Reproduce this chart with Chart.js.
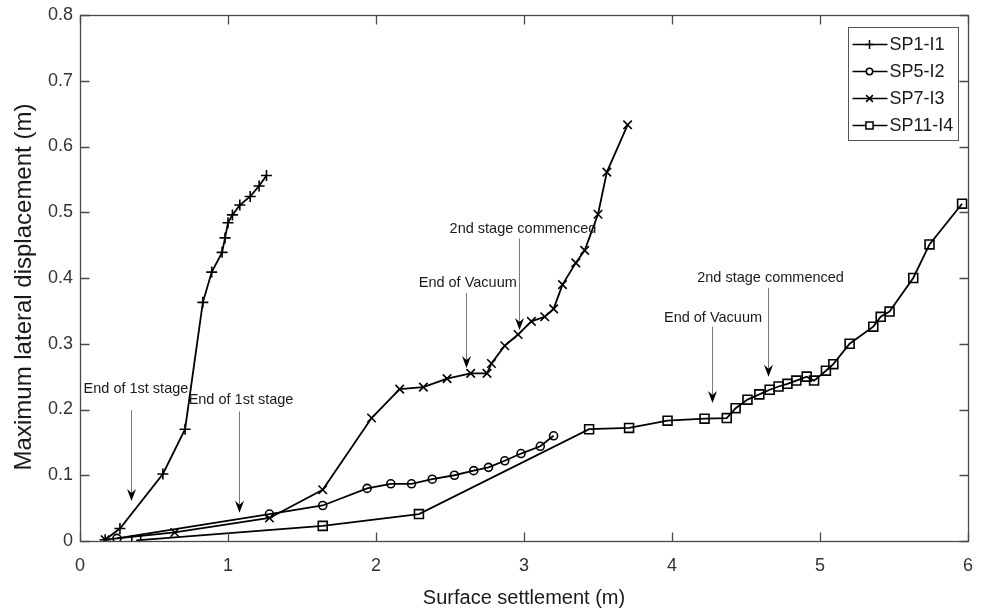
<!DOCTYPE html>
<html>
<head>
<meta charset="utf-8">
<title>Surface settlement vs lateral displacement</title>
<script src="https://cdn.jsdelivr.net/npm/chart.js@4.4.0/dist/chart.umd.min.js"></script>
<style>
  html, body { margin: 0; padding: 0; background: #fff; }
  #wrap { width: 983px; height: 608px; }
</style>
</head>
<body>
<div id="wrap"><canvas id="myChart" width="983" height="608"></canvas></div>
<script>
// inclinometer readings: settlement (x) vs max lateral displacement (y)
var sp1X = [0.17, 0.27, 0.56, 0.71, 0.83, 0.89, 0.96, 0.98, 1.00, 1.03, 1.08, 1.15, 1.21, 1.26];
var sp1Y = [0.002, 0.019, 0.102, 0.170, 0.363, 0.409, 0.439, 0.461, 0.484, 0.496, 0.511, 0.524, 0.540, 0.556];

var sp5X = [0.25, 1.28, 1.64, 1.94, 2.10, 2.24, 2.38, 2.53, 2.66, 2.76, 2.87, 2.98, 3.11, 3.20];
var sp5Y = [0.004, 0.041, 0.054, 0.080, 0.087, 0.087, 0.094, 0.100, 0.107, 0.112, 0.122, 0.133, 0.144, 0.160];

var sp7X = [0.17, 0.64, 1.28, 1.64, 1.97, 2.16, 2.32, 2.48, 2.64, 2.75, 2.78, 2.87, 2.96, 3.05, 3.14, 3.20, 3.26, 3.35, 3.41, 3.50, 3.56, 3.70];
var sp7Y = [0.002, 0.013, 0.035, 0.078, 0.187, 0.231, 0.234, 0.247, 0.255, 0.255, 0.270, 0.297, 0.314, 0.334, 0.341, 0.353, 0.390, 0.423, 0.442, 0.497, 0.561, 0.633];

var sp11X = [0.38, 1.64, 2.29, 3.44, 3.71, 3.97, 4.22, 4.37, 4.43, 4.51, 4.59, 4.66, 4.72, 4.78, 4.84, 4.91, 4.96, 5.04, 5.09, 5.20, 5.36, 5.41, 5.47, 5.63, 5.74, 5.96];
var sp11Y = [0.001, 0.023, 0.041, 0.170, 0.172, 0.183, 0.186, 0.187, 0.202, 0.215, 0.223, 0.230, 0.235, 0.239, 0.244, 0.250, 0.244, 0.259, 0.269, 0.300, 0.326, 0.341, 0.349, 0.400, 0.451, 0.513];

var seriesNames = ["SP1-I1", "SP5-I2", "SP7-I3", "SP11-I4"];
var xTicks = [0, 1, 2, 3, 4, 5, 6];
var yTicks = [0, 0.1, 0.2, 0.3, 0.4, 0.5, 0.6, 0.7, 0.8];
var xTickLabels = ["0", "1", "2", "3", "4", "5", "6"];
var yTickLabels = ["0", "0.1", "0.2", "0.3", "0.4", "0.5", "0.6", "0.7", "0.8"];

// stage notes with arrows (data units)
var notes = [
  { text: "End of 1st stage", tx: 0.378, ty: 0.231, ax: 0.345, top: 0.199, tip: 0.061 },
  { text: "End of 1st stage", tx: 1.088, ty: 0.215, ax: 1.074, top: 0.197, tip: 0.043 },
  { text: "End of Vacuum", tx: 2.62, ty: 0.393, ax: 2.608, top: 0.377, tip: 0.263 },
  { text: "2nd stage commenced", tx: 2.993, ty: 0.475, ax: 2.968, top: 0.46, tip: 0.321 },
  { text: "End of Vacuum", tx: 4.277, ty: 0.339, ax: 4.268, top: 0.326, tip: 0.21 },
  { text: "2nd stage commenced", tx: 4.666, ty: 0.40, ax: 4.646, top: 0.385, tip: 0.25 }
];

var FONT = "'Liberation Sans', Arial, sans-serif";
var axisColor = "#4a4a4a";

function pts(xs, ys) {
  return xs.map(function (x, i) { return { x: x, y: ys[i] }; });
}

function series(i, xs, ys, style, r) {
  return {
    label: seriesNames[i],
    data: pts(xs, ys),
    showLine: true,
    borderColor: "#000",
    borderWidth: 1.8,
    backgroundColor: "rgba(0,0,0,0)",
    pointStyle: style,
    pointRadius: r,
    pointBorderWidth: 1.6,
    pointBorderColor: "#000",
    pointBackgroundColor: "rgba(0,0,0,0)",
    pointHoverRadius: r
  };
}

// keep the plot box where the layout padding puts it
function noOverhang(s) {
  s.paddingTop = 0;
  s.paddingBottom = 0;
  s.paddingLeft = 0;
  s.paddingRight = 0;
}

// box, inward ticks, notes, legend and axis titles
var decor = {
  id: "decor",
  afterDatasetsDraw: function (chart) {
    var ctx = chart.ctx, a = chart.chartArea;
    var xs = chart.scales.x, ys = chart.scales.y;
    ctx.save();

    // notes
    ctx.font = "14.5px " + FONT;
    ctx.textAlign = "center";
    ctx.textBaseline = "middle";
    notes.forEach(function (n) {
      var px = Math.round(xs.getPixelForValue(n.ax)) + 0.5;
      var y0 = ys.getPixelForValue(n.top);
      var y1 = ys.getPixelForValue(n.tip);
      ctx.strokeStyle = "#7a7a7a";
      ctx.lineWidth = 1;
      ctx.beginPath();
      ctx.moveTo(px, y0);
      ctx.lineTo(px, y1 - 6);
      ctx.stroke();
      ctx.fillStyle = "#000";
      ctx.beginPath();
      ctx.moveTo(px, y1);
      ctx.lineTo(px - 4.5, y1 - 12);
      ctx.lineTo(px, y1 - 8);
      ctx.lineTo(px + 4.5, y1 - 12);
      ctx.closePath();
      ctx.fill();
      ctx.fillStyle = "#1a1a1a";
      ctx.fillText(n.text, xs.getPixelForValue(n.tx), ys.getPixelForValue(n.ty));
    });

    // frame
    var L = Math.round(a.left) + 0.5, R = Math.round(a.right) + 0.5;
    var T = Math.round(a.top) + 0.5, B = Math.round(a.bottom) + 0.5;
    ctx.strokeStyle = axisColor;
    ctx.lineWidth = 1.3;
    ctx.strokeRect(L, T, R - L, B - T);
    ctx.beginPath();
    xs.ticks.forEach(function (t) {
      var px = Math.round(xs.getPixelForValue(t.value)) + 0.5;
      ctx.moveTo(px, B); ctx.lineTo(px, B - 9);
      ctx.moveTo(px, T); ctx.lineTo(px, T + 9);
    });
    ys.ticks.forEach(function (t) {
      var py = Math.round(ys.getPixelForValue(t.value)) + 0.5;
      ctx.moveTo(L, py); ctx.lineTo(L + 9, py);
      ctx.moveTo(R, py); ctx.lineTo(R - 9, py);
    });
    ctx.stroke();

    // legend
    var bw = 110, bh = 113;
    var bx = Math.round(a.right - 10 - bw) + 0.5, by = Math.round(a.top + 12) + 0.5;
    ctx.fillStyle = "#fff";
    ctx.fillRect(bx, by, bw, bh);
    ctx.strokeStyle = "#555";
    ctx.lineWidth = 1;
    ctx.strokeRect(bx, by, bw, bh);
    ctx.font = "18px " + FONT;
    ctx.textAlign = "left";
    ctx.textBaseline = "middle";
    chart.data.datasets.forEach(function (ds, i) {
      var ry = by + 17 + i * 27;
      ctx.strokeStyle = "#000";
      ctx.lineWidth = 1.5;
      ctx.beginPath();
      ctx.moveTo(bx + 4, ry);
      ctx.lineTo(bx + 39, ry);
      ctx.stroke();
      ctx.fillStyle = "#fff";
      Chart.helpers.drawPoint(ctx, {
        pointStyle: ds.pointStyle,
        radius: ds.pointRadius * 0.8,
        rotation: 0,
        borderWidth: 1.3
      }, bx + 21, ry);
      ctx.fillStyle = "#1a1a1a";
      ctx.fillText(ds.label, bx + 41, ry + 1);
    });

    // axis titles
    ctx.fillStyle = "#1a1a1a";
    ctx.textAlign = "center";
    ctx.font = "20px " + FONT;
    ctx.fillText("Surface settlement (m)", (a.left + a.right) / 2, 598);
    ctx.save();
    ctx.translate(24, 287);
    ctx.rotate(-Math.PI / 2);
    ctx.font = "24px " + FONT;
    ctx.fillText("Maximum lateral displacement (m)", 0, 0);
    ctx.restore();

    ctx.restore();
  }
};

new Chart("myChart", {
  type: "scatter",
  data: {
    datasets: [
      series(0, sp1X, sp1Y, "cross", 5.5),
      series(1, sp5X, sp5Y, "circle", 4),
      series(2, sp7X, sp7Y, "crossRot", 6),
      series(3, sp11X, sp11Y, "rect", 6.3)
    ]
  },
  options: {
    responsive: false,
    animation: false,
    devicePixelRatio: 1,
    layout: { padding: { left: 0, right: 15, top: 15, bottom: 0 } },
    plugins: { legend: { display: false }, tooltip: { enabled: false } },
    scales: {
      x: {
        type: "linear",
        min: 0, max: 6,
        grid: { display: false, drawTicks: false },
        border: { display: false },
        afterBuildTicks: function (s) { s.ticks = xTicks.map(function (v) { return { value: v }; }); },
        afterFit: function (s) { s.height = 67; noOverhang(s); },
        ticks: {
          padding: 14,
          color: "#333",
          font: { family: FONT, size: 18 },
          callback: function (v) { return xTickLabels[xTicks.indexOf(v)]; }
        }
      },
      y: {
        type: "linear",
        min: 0, max: 0.8,
        grid: { display: false, drawTicks: false },
        border: { display: false },
        afterBuildTicks: function (s) { s.ticks = yTicks.map(function (v) { return { value: v }; }); },
        afterFit: function (s) { s.width = 80; noOverhang(s); },
        ticks: {
          padding: 7,
          color: "#333",
          font: { family: FONT, size: 18 },
          callback: function (v) { return yTickLabels[yTicks.indexOf(v)]; }
        }
      }
    }
  },
  plugins: [decor]
});
</script>
</body>
</html>
